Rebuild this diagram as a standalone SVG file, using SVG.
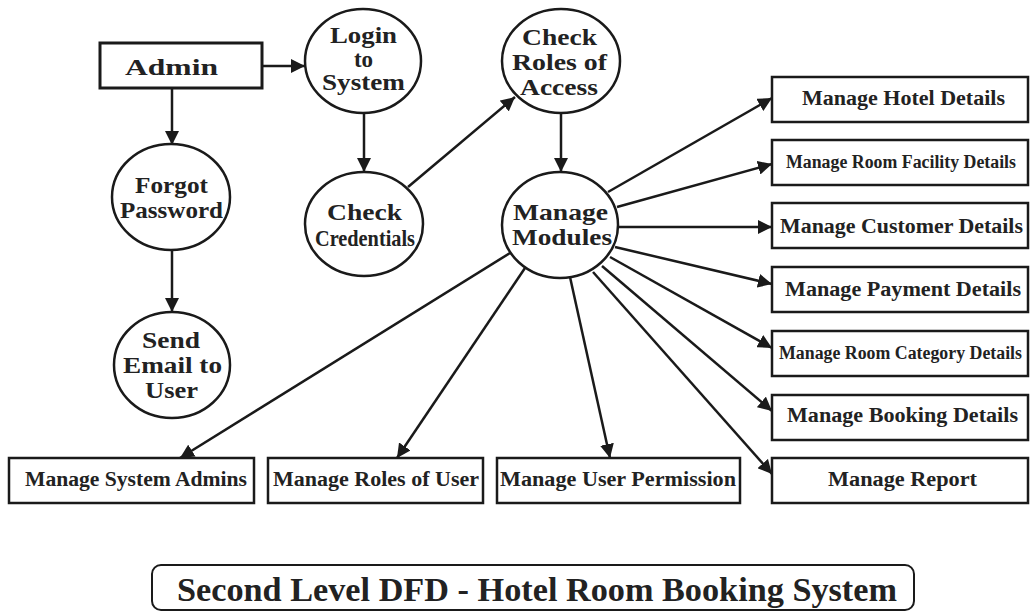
<svg xmlns="http://www.w3.org/2000/svg" width="1030" height="615" viewBox="0 0 1030 615">
  <defs>
    <marker id="arrow" markerUnits="userSpaceOnUse" markerWidth="16" markerHeight="14" refX="14" refY="7" orient="auto">
      <path d="M0,0 L14,7 L0,14 Z" fill="#1a1a1a"/>
    </marker>
    <style>
      .box { fill: #fff; stroke: #1a1a1a; stroke-width: 2.5; }
      .proc { fill: #fff; stroke: #1a1a1a; stroke-width: 2.5; }
      .flow { fill: none; stroke: #1a1a1a; stroke-width: 2.5; marker-end: url(#arrow); }
      text { font-family: "Liberation Serif", "Times New Roman", serif; font-weight: bold; fill: #222; text-anchor: middle; }
      .c { font-size: 23px; }
      .b { font-size: 20px; }
      .n { font-size: 18px; }
      .t { font-size: 34px; }
    </style>
  </defs>

  <!-- external entity -->
  <g id="admin">
    <rect class="box" x="100" y="43" width="162" height="45" style="stroke-width:3"/>
    <text class="c" x="171.5" y="75" textLength="93" lengthAdjust="spacingAndGlyphs" style="font-size:24px">Admin</text>
  </g>

  <!-- processes -->
  <g id="login">
    <ellipse class="proc" cx="363" cy="61" rx="58" ry="52"/>
    <text class="c" x="363.5" y="43" textLength="67" lengthAdjust="spacingAndGlyphs">Login</text>
    <text class="c" x="363.5" y="67">to</text>
    <text class="c" x="363.5" y="90" textLength="83" lengthAdjust="spacingAndGlyphs">System</text>
  </g>

  <g id="forgot-password">
    <ellipse class="proc" cx="171" cy="197" rx="59" ry="53"/>
    <text class="c" x="171.5" y="193" textLength="73" lengthAdjust="spacingAndGlyphs">Forgot</text>
    <text class="c" x="171.5" y="218" textLength="103" lengthAdjust="spacingAndGlyphs">Password</text>
  </g>

  <g id="send-email">
    <ellipse class="proc" cx="172" cy="365" rx="58" ry="53"/>
    <text class="c" x="171" y="348" textLength="58" lengthAdjust="spacingAndGlyphs">Send</text>
    <text class="c" x="172.5" y="373" textLength="99" lengthAdjust="spacingAndGlyphs">Email to</text>
    <text class="c" x="171.5" y="398" textLength="53" lengthAdjust="spacingAndGlyphs">User</text>
  </g>

  <g id="check-credentials">
    <ellipse class="proc" cx="364" cy="224" rx="59" ry="52"/>
    <text class="c" x="364.5" y="220" textLength="75" lengthAdjust="spacingAndGlyphs">Check</text>
    <text class="c" x="365" y="246" textLength="100" lengthAdjust="spacingAndGlyphs">Credentials</text>
  </g>

  <g id="check-roles">
    <ellipse class="proc" cx="561" cy="61" rx="59" ry="52"/>
    <text class="c" x="559.5" y="45" textLength="75" lengthAdjust="spacingAndGlyphs">Check</text>
    <text class="c" x="559.5" y="70" textLength="95" lengthAdjust="spacingAndGlyphs">Roles of</text>
    <text class="c" x="559" y="95" textLength="78" lengthAdjust="spacingAndGlyphs">Access</text>
  </g>

  <g id="manage-modules">
    <ellipse class="proc" cx="560" cy="225" rx="58" ry="53"/>
    <text class="c" x="560.5" y="220" textLength="95" lengthAdjust="spacingAndGlyphs">Manage</text>
    <text class="c" x="562" y="245" textLength="100" lengthAdjust="spacingAndGlyphs">Modules</text>
  </g>

  <!-- module stores, right column -->
  <g id="hotel-details">
    <rect class="box" x="772" y="77" width="256" height="45"/>
    <text class="b" x="903.5" y="105" textLength="203" lengthAdjust="spacingAndGlyphs">Manage Hotel Details</text>
  </g>
  <g id="room-facility-details">
    <rect class="box" x="772" y="140" width="256" height="45"/>
    <text class="n" x="901" y="168" textLength="230" lengthAdjust="spacingAndGlyphs">Manage Room Facility Details</text>
  </g>
  <g id="customer-details">
    <rect class="box" x="772" y="203" width="256" height="45"/>
    <text class="b" x="901.5" y="233" textLength="243" lengthAdjust="spacingAndGlyphs">Manage Customer Details</text>
  </g>
  <g id="payment-details">
    <rect class="box" x="772" y="267" width="256" height="45"/>
    <text class="b" x="903" y="296" textLength="236" lengthAdjust="spacingAndGlyphs">Manage Payment Details</text>
  </g>
  <g id="room-category-details">
    <rect class="box" x="772" y="331" width="256" height="45"/>
    <text class="n" x="900.5" y="359" textLength="243" lengthAdjust="spacingAndGlyphs">Manage Room Category Details</text>
  </g>
  <g id="booking-details">
    <rect class="box" x="772" y="395" width="256" height="45"/>
    <text class="b" x="902.5" y="422" textLength="231" lengthAdjust="spacingAndGlyphs">Manage Booking Details</text>
  </g>
  <g id="report">
    <rect class="box" x="772" y="458" width="256" height="45"/>
    <text class="b" x="902.5" y="486" textLength="149" lengthAdjust="spacingAndGlyphs">Manage Report</text>
  </g>

  <!-- module stores, bottom row -->
  <g id="system-admins">
    <rect class="box" x="9" y="458" width="245" height="45"/>
    <text class="b" x="136" y="486" textLength="222" lengthAdjust="spacingAndGlyphs">Manage System Admins</text>
  </g>
  <g id="roles-of-user">
    <rect class="box" x="268" y="458" width="215" height="45"/>
    <text class="b" x="376" y="486" textLength="206" lengthAdjust="spacingAndGlyphs">Manage Roles of User</text>
  </g>
  <g id="user-permission">
    <rect class="box" x="497" y="458" width="243" height="45"/>
    <text class="b" x="618" y="486" textLength="236" lengthAdjust="spacingAndGlyphs">Manage User Permission</text>
  </g>

  <!-- data flows -->
  <g id="connectors">
    <line class="flow" x1="262" y1="66" x2="305" y2="66"/>
    <line class="flow" x1="172" y1="88" x2="172" y2="145"/>
    <line class="flow" x1="172" y1="250" x2="172" y2="312"/>
    <line class="flow" x1="364" y1="113" x2="364" y2="172"/>
    <line class="flow" x1="408" y1="187" x2="515" y2="97"/>
    <line class="flow" x1="561" y1="113" x2="561" y2="172"/>
    <line class="flow" x1="608" y1="192" x2="772" y2="98"/>
    <line class="flow" x1="617" y1="207" x2="772" y2="164"/>
    <line class="flow" x1="618" y1="227" x2="772" y2="227"/>
    <line class="flow" x1="615" y1="247" x2="772" y2="284"/>
    <line class="flow" x1="610" y1="257" x2="772" y2="348"/>
    <line class="flow" x1="602" y1="266" x2="772" y2="411"/>
    <line class="flow" x1="593" y1="272" x2="772" y2="474"/>
    <line class="flow" x1="510" y1="253" x2="180" y2="458"/>
    <line class="flow" x1="525" y1="268" x2="397" y2="458"/>
    <line class="flow" x1="570" y1="277" x2="610" y2="458"/>
  </g>

  <!-- caption -->
  <g id="caption">
    <rect x="152" y="565" width="762" height="45" rx="9" fill="#fff" stroke="#1a1a1a" stroke-width="2"/>
    <text class="t" x="537" y="601" textLength="720" lengthAdjust="spacingAndGlyphs">Second Level DFD - Hotel Room Booking System</text>
  </g>
</svg>
